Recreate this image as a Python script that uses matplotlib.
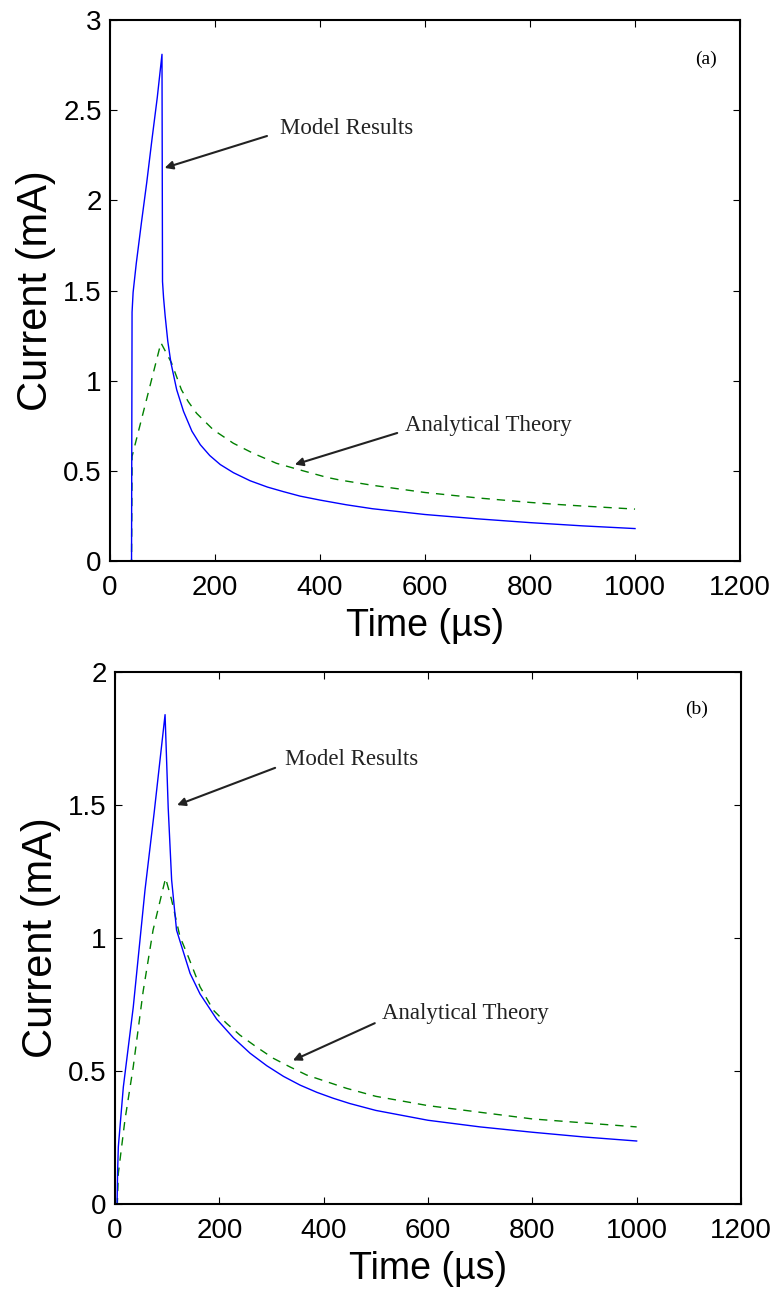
import matplotlib
matplotlib.use('Agg')
import matplotlib.pyplot as plt

# panel (a)
t_a_model = [0, 41, 42, 44, 50, 60, 70, 80, 90, 99, 100, 102, 105, 110, 116, 127, 140, 156, 172, 190,
             210, 235, 267, 300, 330, 362, 400, 450, 500, 600, 700, 800, 900, 1000]
i_a_model = [0, 0, 1.38, 1.49, 1.65, 1.88, 2.1, 2.34, 2.57, 2.81, 1.55, 1.46, 1.36, 1.22, 1.10, 0.95, 0.83,
             0.72, 0.645, 0.585, 0.535, 0.49, 0.445, 0.41, 0.385, 0.36, 0.338, 0.312, 0.29, 0.258,
             0.234, 0.213, 0.195, 0.18]
t_a_theory = [0, 41, 42, 97, 117, 136, 149, 165, 181, 197, 235, 273, 317, 362, 413, 438, 500, 600, 700,
              800, 851, 900, 1000]
i_a_theory = [0, 0, 0.58, 1.21, 1.10, 0.95, 0.884, 0.819, 0.773, 0.727, 0.653, 0.597, 0.542, 0.505, 0.464,
              0.449, 0.42, 0.38, 0.35, 0.325, 0.314, 0.305, 0.288]

# panel (b)
t_b_model = [0, 4, 5, 6.4, 16, 35, 57.5, 75, 96, 102, 108.6, 118, 128, 144, 163, 195, 227, 259, 291, 323,
             355, 387, 418, 450, 500, 600, 700, 800, 900, 1000]
i_b_model = [0, 0, 0.12, 0.215, 0.44, 0.74, 1.18, 1.47, 1.84, 1.49, 1.218, 1.03, 0.967, 0.867, 0.79, 0.695,
             0.625, 0.567, 0.52, 0.48, 0.447, 0.42, 0.398, 0.378, 0.352, 0.315, 0.29, 0.27, 0.252, 0.237]
t_b_theory = [0, 4.5, 6.4, 19, 35, 54, 73, 92.6, 97, 108.6, 124.6, 140.5, 163, 188.5, 214, 239.6, 271.6,
              303.5, 335, 367.5, 405.8, 444, 500, 600, 700, 800, 900, 1000]
i_b_theory = [0, 0, 0.115, 0.315, 0.516, 0.80, 1.03, 1.19, 1.225, 1.143, 1.005, 0.93, 0.817, 0.729, 0.679,
              0.635, 0.59, 0.548, 0.516, 0.485, 0.46, 0.435, 0.405, 0.37, 0.345, 0.32, 0.305, 0.29]

x_ticks = [0, 200, 400, 600, 800, 1000, 1200]
x_ticklabels = ['0', '200', '400', '600', '800', '1000', '1200']
y_ticks_a = [0, 0.5, 1, 1.5, 2, 2.5, 3]
y_ticklabels_a = ['0', '0.5', '1', '1.5', '2', '2.5', '3']
y_ticks_b = [0, 0.5, 1, 1.5, 2]
y_ticklabels_b = ['0', '0.5', '1', '1.5', '2']

sans = 'Liberation Sans'
serif = 'Liberation Serif'


def panel(ax, t_m, i_m, t_t, i_t, ymax, yticks, yticklabels, tag, notes):
   ax.plot(t_t, i_t, color='#008000', lw=1.0, linestyle=(0, (6, 5)))
   ax.plot(t_m, i_m, color='#0000ff', lw=1.0)
   ax.set_xlim(0, 1200)
   ax.set_ylim(0, ymax)
   ax.set_xticks(x_ticks)
   ax.set_xticklabels(x_ticklabels, fontname=sans, fontsize=20)
   ax.set_yticks(yticks)
   ax.set_yticklabels(yticklabels, fontname=sans, fontsize=20)
   ax.tick_params(direction='in', length=5, width=0.8, top=True, right=True)
   ax.tick_params(axis='x', pad=10)
   ax.tick_params(axis='y', pad=6)
   for s in ax.spines.values():
      s.set_linewidth(1.5)
   ax.set_xlabel('Time (\u00b5s)', fontname=sans, fontsize=27, labelpad=5)
   ax.set_ylabel('Current (mA)', fontname=sans, fontsize=30, labelpad=5)
   ax.text(tag[1], tag[2], tag[0], fontname=serif, fontsize=14, ha='center', va='center')
   for label, xy, xytext, txt in notes:
      ax.annotate('', xy=xy, xytext=xytext,
                  arrowprops=dict(arrowstyle='-|>', color='#222222', lw=1.5, mutation_scale=12,
                                  shrinkA=0, shrinkB=0))
      ax.text(txt[0], txt[1], label, fontname=serif, fontsize=16.5, ha='left', va='center', color='#222222')


def main():
   fig = plt.figure(figsize=(7.78, 12.93), dpi=100)
   ax1 = fig.add_axes([0.1414, 0.5661, 0.8098, 0.4184])
   ax2 = fig.add_axes([0.1478, 0.0688, 0.8046, 0.4114])

   panel(ax1, t_a_model, i_a_model, t_a_theory, i_a_theory, 3, y_ticks_a, y_ticklabels_a,
         ('(a)', 1135, 2.78),
         [('Model Results', (104, 2.18), (299, 2.357), (324, 2.40)),
          ('Analytical Theory', (352, 0.535), (547, 0.71), (562, 0.754))])
   panel(ax2, t_b_model, i_b_model, t_b_theory, i_b_theory, 2, y_ticks_b, y_ticklabels_b,
         ('(b)', 1114, 1.86),
         [('Model Results', (119, 1.50), (307, 1.64), (326, 1.67)),
          ('Analytical Theory', (341, 0.54), (498, 0.68), (512, 0.718))])

   fig.savefig('out.png', dpi=100)


if __name__ == "__main__":
   main()
